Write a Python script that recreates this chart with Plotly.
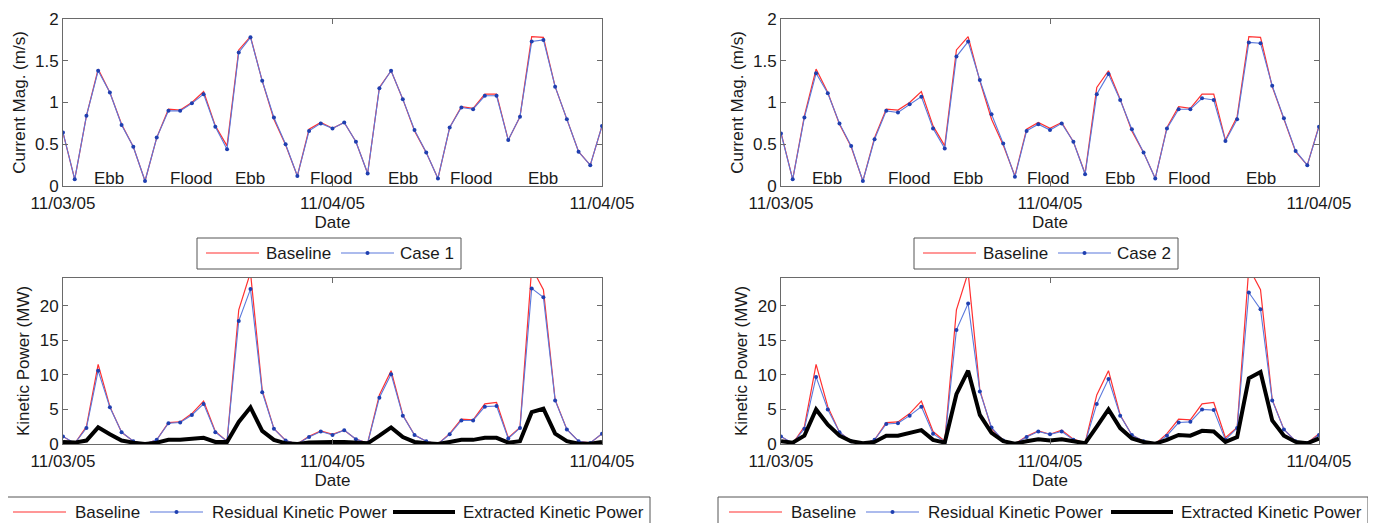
import plotly.graph_objects as go

# page body has an 8px margin: size the figure so it fits the 1376x523 window
OFF = 8
W, H = 1376 - OFF, 523 - OFF

# ---------------- data ----------------
time_idx = list(range(47))  # hourly steps
x_tickvals = [0, 23, 46]
x_ticktext = ["11/03/05", "11/04/05", "11/04/05"]

cur_baseline = [0.64, 0.08, 0.84, 1.40, 1.12, 0.74, 0.47, 0.06, 0.58, 0.92, 0.91, 1.00, 1.13, 0.72, 0.48,
                1.63, 1.79, 1.26, 0.80, 0.49, 0.12, 0.68, 0.76, 0.69, 0.76, 0.53, 0.15, 1.18, 1.38, 1.04,
                0.66, 0.40, 0.09, 0.70, 0.95, 0.93, 1.10, 1.10, 0.55, 0.83, 1.79, 1.78, 1.19, 0.79, 0.41,
                0.25, 0.72]
cur_case1 = [0.64, 0.08, 0.84, 1.38, 1.12, 0.73, 0.47, 0.06, 0.58, 0.90, 0.90, 0.99, 1.10, 0.71, 0.44,
             1.60, 1.78, 1.26, 0.82, 0.50, 0.12, 0.66, 0.75, 0.69, 0.76, 0.53, 0.15, 1.17, 1.38, 1.04,
             0.67, 0.40, 0.09, 0.70, 0.94, 0.92, 1.08, 1.08, 0.55, 0.83, 1.73, 1.75, 1.19, 0.80, 0.41,
             0.25, 0.72]
cur_case2 = [0.63, 0.08, 0.82, 1.35, 1.11, 0.75, 0.48, 0.06, 0.56, 0.90, 0.88, 0.98, 1.07, 0.69, 0.45,
             1.55, 1.73, 1.27, 0.86, 0.51, 0.11, 0.66, 0.74, 0.67, 0.75, 0.53, 0.14, 1.10, 1.34, 1.03,
             0.68, 0.40, 0.09, 0.69, 0.92, 0.92, 1.05, 1.03, 0.54, 0.80, 1.72, 1.71, 1.20, 0.81, 0.42,
             0.25, 0.71]

pow_baseline = [1.1, 0.05, 2.5, 11.5, 5.4, 1.7, 0.4, 0.0, 0.6, 3.1, 3.2, 4.4, 6.2, 1.8, 0.4,
                19.4, 24.8, 7.8, 2.2, 0.5, 0.0, 1.1, 1.9, 1.4, 2.0, 0.7, 0.15, 7.1, 10.6, 4.2,
                1.3, 0.4, 0.0, 1.5, 3.6, 3.5, 5.8, 6.0, 0.9, 2.4, 25.5, 22.3, 6.4, 2.1, 0.4,
                0.15, 1.5]
pow_resid_case1 = [1.1, 0.1, 2.3, 10.6, 5.3, 1.7, 0.4, 0.0, 0.6, 3.0, 3.1, 4.2, 5.8, 1.7, 0.4,
                   17.8, 22.4, 7.5, 2.2, 0.5, 0.0, 1.0, 1.8, 1.3, 2.0, 0.7, 0.15, 6.7, 10.1, 4.1,
                   1.3, 0.4, 0.0, 1.4, 3.4, 3.4, 5.4, 5.5, 0.8, 2.3, 22.5, 21.2, 6.3, 2.1, 0.4,
                   0.15, 1.5]
pow_extr_case1 = [0.3, 0.2, 0.5, 2.4, 1.4, 0.5, 0.2, 0.0, 0.2, 0.6, 0.6, 0.7, 0.9, 0.3, 0.3,
                  3.2, 5.3, 1.9, 0.6, 0.1, 0.0, 0.2, 0.3, 0.3, 0.3, 0.2, 0.1, 1.2, 2.4, 1.0,
                  0.3, 0.1, 0.0, 0.3, 0.6, 0.6, 0.9, 0.9, 0.2, 0.4, 4.6, 5.1, 1.5, 0.4, 0.05,
                  0.05, 0.3]
pow_resid_case2 = [1.1, 0.1, 2.2, 9.7, 5.0, 1.7, 0.4, 0.0, 0.6, 2.9, 3.0, 4.1, 5.4, 1.5, 0.3,
                   16.5, 20.3, 7.6, 2.4, 0.5, 0.0, 1.0, 1.8, 1.4, 1.8, 0.6, 0.15, 5.8, 9.4, 4.1,
                   1.3, 0.4, 0.0, 1.2, 3.1, 3.2, 5.0, 4.9, 0.6, 2.3, 21.9, 19.5, 6.3, 2.1, 0.4,
                   0.15, 1.3]
pow_extr_case2 = [0.4, 0.2, 1.2, 5.0, 2.8, 1.2, 0.4, 0.1, 0.3, 1.2, 1.2, 1.6, 2.0, 0.6, 0.2,
                  7.2, 10.6, 4.2, 1.6, 0.4, 0.05, 0.4, 0.7, 0.5, 0.7, 0.4, 0.1, 2.5, 5.0, 2.3,
                  0.8, 0.3, 0.05, 0.6, 1.3, 1.2, 1.9, 1.8, 0.3, 1.0, 9.5, 10.4, 3.4, 1.2, 0.3,
                  0.1, 0.8]

tide_labels = ["Ebb", "Flood", "Ebb", "Flood", "Ebb", "Flood", "Ebb"]
tide_label_x = [3.9, 11.0, 16.0, 22.9, 29.0, 34.9, 41.0]
tide_label_y = 0.09

# ---------------- styles ----------------
FONT = "Liberation Sans, Arial, sans-serif"
FS = 17
TXT = "#1a1a1a"
RED = "#ff3030"
BLUE_LINE = "#5a78dc"
BLUE_MK = "#1f3fb0"
AX = "#6a6a6a"


def px2x(px):
    return (px - OFF) / W


def px2y(py):
    return 1 - (py - OFF) / H


fig = go.Figure()

# axis boxes in window pixels
LEFT = (63, 602)
RIGHT = (781, 1319)
TOP = (19, 186)
BOT = (278, 444)

axes = {
    "1": (LEFT, TOP),
    "2": (RIGHT, TOP),
    "3": (LEFT, BOT),
    "4": (RIGHT, BOT),
}


def add_line(x, y, ax, color, width, marker=False):
    fig.add_trace(go.Scatter(
        x=x, y=y, mode="lines+markers" if marker else "lines",
        line=dict(color=color, width=width),
        marker=dict(size=4, color=BLUE_MK) if marker else None,
        xaxis="x" + ax, yaxis="y" + ax, showlegend=False, cliponaxis=True,
        hoverinfo="x+y"))


# top left: baseline vs case 1
add_line(time_idx, cur_baseline, "1", RED, 1.2)
add_line(time_idx, cur_case1, "1", BLUE_LINE, 1.1, marker=True)
# top right: baseline vs case 2
add_line(time_idx, cur_baseline, "2", RED, 1.2)
add_line(time_idx, cur_case2, "2", BLUE_LINE, 1.1, marker=True)
# bottom left
add_line(time_idx, pow_baseline, "3", RED, 1.2)
add_line(time_idx, pow_resid_case1, "3", BLUE_LINE, 1.1, marker=True)
add_line(time_idx, pow_extr_case1, "3", "#000000", 4)
# bottom right
add_line(time_idx, pow_baseline, "4", RED, 1.2)
add_line(time_idx, pow_resid_case2, "4", BLUE_LINE, 1.1, marker=True)
add_line(time_idx, pow_extr_case2, "4", "#000000", 4)

layout = dict(
    width=W, height=H,
    margin=dict(l=0, r=0, t=0, b=0, autoexpand=False),
    paper_bgcolor="white", plot_bgcolor="white",
    font=dict(family=FONT, size=FS, color=TXT),
    showlegend=False,
)

for k, ((x0, x1), (y0, y1)) in axes.items():
    is_top = k in ("1", "2")
    xa = dict(
        domain=[px2x(x0), px2x(x1)], anchor="y" + k,
        range=[0, 46], tickvals=x_tickvals, ticktext=x_ticktext,
        ticks="inside", ticklen=5, tickcolor=AX, showgrid=False, zeroline=False,
        showline=True, linecolor=AX, linewidth=1, mirror="ticks",
        tickfont=dict(family=FONT, size=FS, color=TXT), ticklabelstandoff=2,
        title=dict(text="Date", font=dict(family=FONT, size=FS, color=TXT), standoff=2),
        automargin=False,
    )
    ya = dict(
        domain=[px2y(y1), px2y(y0)], anchor="x" + k,
        ticks="inside", ticklen=5, tickcolor=AX, showgrid=False, zeroline=False,
        showline=True, linecolor=AX, linewidth=1, mirror="ticks",
        tickfont=dict(family=FONT, size=FS, color=TXT),
        automargin=False,
    )
    if is_top:
        ya.update(range=[0, 2], tickvals=[0, 0.5, 1, 1.5, 2], ticktext=["0", "0.5", "1", "1.5", "2"],
                  title=dict(text="Current Mag. (m/s)", font=dict(family=FONT, size=FS, color=TXT), standoff=5))
    else:
        ya.update(range=[0, 24], tickvals=[0, 5, 10, 15, 20],
                  title=dict(text="Kinetic Power (MW)", font=dict(family=FONT, size=FS, color=TXT), standoff=5))
    suffix = "" if k == "1" else k
    layout["xaxis" + suffix] = xa
    layout["yaxis" + suffix] = ya

fig.update_layout(**layout)

# Ebb / Flood labels
for ax in ("1", "2"):
    for lab, lx in zip(tide_labels, tide_label_x):
        fig.add_annotation(x=lx, y=tide_label_y, xref="x" + ax, yref="y" + ax, text=lab,
                           showarrow=False, font=dict(family=FONT, size=FS, color=TXT),
                           xanchor="center", yanchor="middle")


# ---------------- legends (drawn as boxes with sample lines) ----------------
def legend_box(bx0, bx1, by0, by1, items, ymid):
    fig.add_shape(type="rect", xref="paper", yref="paper",
                  x0=px2x(bx0), x1=px2x(bx1), y0=px2y(by1), y1=px2y(by0),
                  line=dict(color="#555555", width=1), fillcolor="white", layer="above")
    for (lx0, lx1, color, width, dot, label, tx) in items:
        fig.add_shape(type="line", xref="paper", yref="paper",
                      x0=px2x(lx0), x1=px2x(lx1), y0=px2y(ymid), y1=px2y(ymid),
                      line=dict(color=color, width=width), layer="above")
        if dot:
            c = (lx0 + lx1) / 2
            fig.add_shape(type="circle", xref="paper", yref="paper",
                          x0=px2x(c - 2), x1=px2x(c + 2), y0=px2y(ymid + 2), y1=px2y(ymid - 2),
                          line=dict(color=BLUE_MK, width=0), fillcolor=BLUE_MK, layer="above")
        fig.add_annotation(x=px2x(tx), y=px2y(ymid), xref="paper", yref="paper", text=label,
                           showarrow=False, xanchor="left", yanchor="middle",
                           font=dict(family=FONT, size=FS, color=TXT))


legend_box(197, 461, 238, 269, [
    (206, 259, RED, 1.2, False, "Baseline", 264),
    (341, 394, BLUE_LINE, 1.1, True, "Case 1", 398),
], 253)
legend_box(914, 1178, 238, 269, [
    (923, 976, RED, 1.2, False, "Baseline", 981),
    (1058, 1111, BLUE_LINE, 1.1, True, "Case 2", 1115),
], 253)
legend_box(2, 650, 497, 530, [
    (13, 66, RED, 1.2, False, "Baseline", 73),
    (150, 203, BLUE_LINE, 1.1, True, "Residual Kinetic Power", 210),
    (393, 455, "#000000", 4, False, "Extracted Kinetic Power", 461),
], 512)
legend_box(718, 1368, 497, 530, [
    (729, 782, RED, 1.2, False, "Baseline", 789),
    (866, 919, BLUE_LINE, 1.1, True, "Residual Kinetic Power", 926),
    (1111, 1173, "#000000", 4, False, "Extracted Kinetic Power", 1179),
], 512)

fig.write_html("out.html")
